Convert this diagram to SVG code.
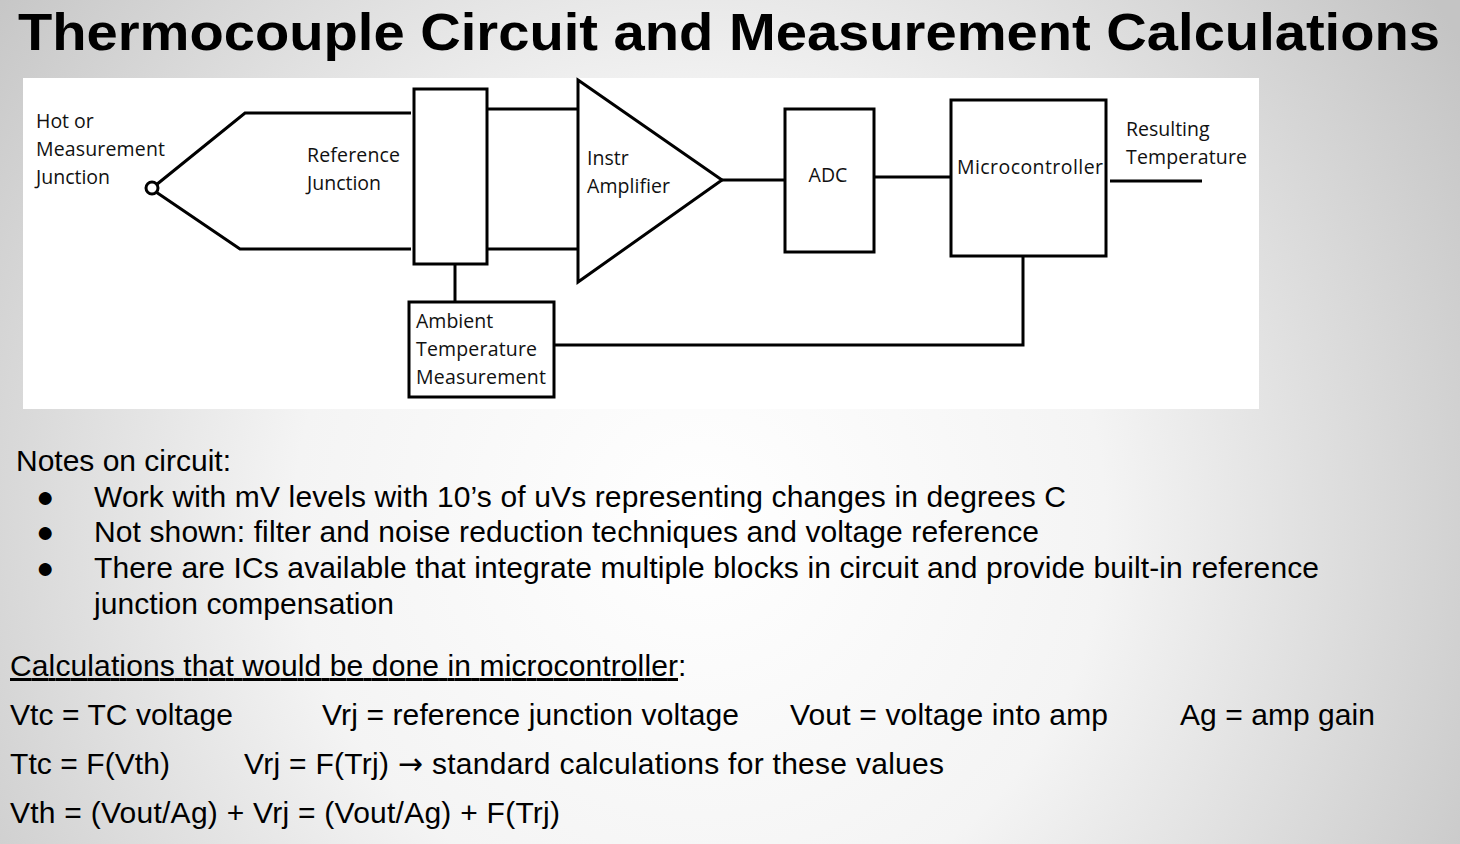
<svg xmlns="http://www.w3.org/2000/svg" width="1460" height="844" viewBox="0 0 1460 844">
<defs>
<radialGradient id="bg" cx="700" cy="520" r="900" gradientUnits="userSpaceOnUse">
<stop offset="0" stop-color="#ffffff"/><stop offset="0.45" stop-color="#f4f4f4"/><stop offset="1" stop-color="#c4c4c4"/>
</radialGradient>
<style>
.s{fill:none;stroke:#000;stroke-width:3}
.b{fill:#fff;stroke:#000;stroke-width:3}
.d{font-family:"Open Sans","Liberation Sans",sans-serif;font-size:19.5px;fill:#111}
.n{font-family:"Liberation Sans",Arial,sans-serif;font-size:30px;fill:#000}
</style>
</defs>
<rect width="1460" height="844" fill="url(#bg)"/>
<text x="18" y="50" font-family="Liberation Sans,Arial,sans-serif" font-weight="bold" font-size="52" textLength="1422" lengthAdjust="spacingAndGlyphs">Thermocouple Circuit and Measurement Calculations</text>
<rect x="23" y="78" width="1236" height="331" fill="#fff"/>
<g id="connectors">
<polyline class="s" points="411,113 245,113 156,185"/>
<polyline class="s" points="411,249 240,249 156,192"/>
<line class="s" x1="487" y1="109" x2="577" y2="109"/>
<line class="s" x1="487" y1="249" x2="577" y2="249"/>
<line class="s" x1="722" y1="180" x2="785" y2="180"/>
<line class="s" x1="874" y1="177" x2="952" y2="177"/>
<line class="s" x1="1110" y1="181" x2="1202" y2="181"/>
<line class="s" x1="455" y1="264" x2="455" y2="302"/>
<polyline class="s" points="554,345 1023,345 1023,256"/>
</g>
<g id="hot"><circle cx="152" cy="188" r="6" fill="#fff" stroke="#000" stroke-width="3"/>
<text class="d" x="36" y="128">Hot or</text><text class="d" x="36" y="156" textLength="129">Measurement</text><text class="d" x="36" y="184">Junction</text></g>
<g id="refjunction"><rect class="b" x="414" y="89" width="73" height="175"/>
<text class="d" x="307" y="162" textLength="93">Reference</text><text class="d" x="307" y="190">Junction</text></g>
<g id="amp"><polygon class="b" points="578,80 722,180 578,282"/>
<text class="d" x="587" y="165">Instr</text><text class="d" x="587" y="193" textLength="83">Amplifier</text></g>
<g id="adc"><rect class="b" x="785" y="109" width="89" height="143"/><text class="d" x="828" y="182" text-anchor="middle">ADC</text></g>
<g id="mcu"><rect class="b" x="951" y="100" width="155" height="156"/><text class="d" x="957" y="174" textLength="146">Microcontroller</text></g>
<g id="result"><text class="d" x="1126" y="136">Resulting</text><text class="d" x="1126" y="164" textLength="121">Temperature</text></g>
<g id="ambient"><rect class="b" x="409" y="302" width="145" height="95"/>
<text class="d" x="416" y="328">Ambient</text><text class="d" x="416" y="356" textLength="121">Temperature</text><text class="d" x="416" y="384" textLength="130">Measurement</text></g>
<g id="notes" class="n">
<text x="16" y="471" textLength="215">Notes on circuit:</text>
<text x="36" y="507">●</text><text x="94" y="507" textLength="972">Work with mV levels with 10’s of uVs representing changes in degrees C</text>
<text x="36" y="542">●</text><text x="94" y="542" textLength="945">Not shown: filter and noise reduction techniques and voltage reference</text>
<text x="36" y="578">●</text><text x="94" y="578" textLength="1225">There are ICs available that integrate multiple blocks in circuit and provide built-in reference</text>
<text x="94" y="614" textLength="300">junction compensation</text>
<text x="10" y="676"><tspan text-decoration="underline" textLength="668">Calculations that would be done in microcontroller</tspan>:</text>
<text x="10" y="725" textLength="223">Vtc = TC voltage</text>
<text x="322" y="725" textLength="417">Vrj = reference junction voltage</text>
<text x="790" y="725" textLength="318">Vout = voltage into amp</text>
<text x="1180" y="725" textLength="195">Ag = amp gain</text>
<text x="10" y="774" textLength="160">Ttc = F(Vth)</text>
<text x="244" y="774" textLength="700">Vrj = F(Trj) <tspan font-family="DejaVu Sans">→</tspan> standard calculations for these values</text>
<text x="10" y="823" textLength="550">Vth = (Vout/Ag) + Vrj = (Vout/Ag) + F(Trj)</text>
</g>
</svg>
